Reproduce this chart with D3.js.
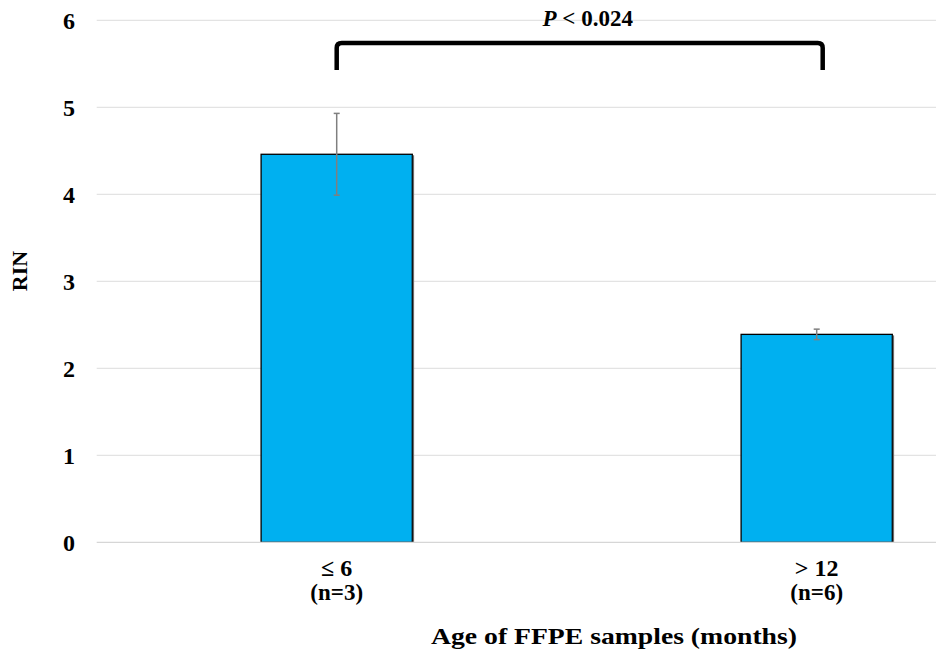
<!DOCTYPE html>
<html>
<head>
<meta charset="utf-8">
<script src="https://cdn.jsdelivr.net/npm/d3@7/dist/d3.min.js"></script>
<style>
  html, body { margin: 0; padding: 0; background: #fff; }
  svg { display: block; }
  svg text { font-family: "Liberation Serif", "Times New Roman", Times, "DejaVu Serif", serif !important; font-weight: bold; fill: #000; }
</style>
</head>
<body>
<svg id="chart" width="936" height="652"></svg>
<script>
// Sample age groups and their mean RIN with error (±)
const groups = ["≤ 6", "> 12"];
const groupN = ["(n=3)", "(n=6)"];
const rinMean = [4.46, 2.39];
const rinErr = [0.47, 0.06];
const yTicks = [0, 1, 2, 3, 4, 5, 6];
const pLabel = "0.024";

const serif = "'Liberation Serif', 'Times New Roman', Times, 'DejaVu Serif', serif";
const svg = d3.select("#chart");
const plot = { left: 96.7, top: 20.3, bottom: 542.3, width: 960 };

const x = d3.scaleBand()
  .domain(groups)
  .range([plot.left, plot.left + plot.width])
  .paddingInner(0.685)
  .paddingOuter(0.3425);

const y = d3.scaleLinear().domain([0, 6]).range([plot.bottom, plot.top]);

// Horizontal gridlines
svg.append("g")
  .selectAll("line")
  .data(yTicks.filter(d => d > 0))
  .join("line")
  .attr("x1", plot.left).attr("x2", 936)
  .attr("y1", d => y(d)).attr("y2", d => y(d))
  .attr("stroke", "#e3e3e3").attr("stroke-width", 1.2);

// Y axis tick labels
const yAxis = d3.axisLeft(y).tickValues(yTicks).tickFormat(d3.format("d")).tickSize(0).tickPadding(0);
svg.append("g")
  .attr("transform", "translate(74,0)")
  .call(yAxis)
  .attr("font-family", serif)
  .call(g => g.select(".domain").remove())
  .call(g => g.selectAll("text")
    .attr("font-size", 24)
    .attr("text-anchor", "middle")
    .attr("x", -5)
    .attr("dy", "0.34em"));

// Bars
const bars = svg.append("g");
groups.forEach((g, i) => {
  const x0 = x(g), w = x.bandwidth();
  bars.append("rect")
    .attr("x", x0).attr("y", y(rinMean[i]))
    .attr("width", w).attr("height", y(0) - y(rinMean[i]))
    .attr("fill", "#00B0F0")
    .attr("stroke", "#000").attr("stroke-width", 1.3);
  // soft shade along the right edge
  bars.append("line")
    .attr("x1", x0 + w + 1.2).attr("x2", x0 + w + 1.2)
    .attr("y1", y(rinMean[i]) + 1).attr("y2", y(0))
    .attr("stroke", "#6b6b6b").attr("stroke-width", 1.2);
});

// X axis baseline
svg.append("line")
  .attr("x1", plot.left).attr("x2", 936)
  .attr("y1", y(0)).attr("y2", y(0))
  .attr("stroke", "#d6d6d6").attr("stroke-width", 1.3);

// Error bars
const err = svg.append("g").attr("stroke", "#7f7f7f").attr("stroke-width", 1.5);
groups.forEach((g, i) => {
  const cx = x(g) + x.bandwidth() / 2;
  const hi = y(rinMean[i] + rinErr[i]), lo = y(rinMean[i] - rinErr[i]);
  err.append("line").attr("x1", cx).attr("x2", cx).attr("y1", hi).attr("y2", lo);
  err.append("line").attr("x1", cx - 3).attr("x2", cx + 3).attr("y1", hi).attr("y2", hi);
  err.append("line").attr("x1", cx - 3).attr("x2", cx + 3).attr("y1", lo).attr("y2", lo);
});

// Category labels
const catG = svg.append("g").attr("font-family", serif);
groups.forEach((g, i) => {
  const cx = x(g) + x.bandwidth() / 2;
  catG.append("text").attr("x", cx).attr("y", 576)
    .attr("text-anchor", "middle").attr("font-size", 24).text(g);
  catG.append("text").attr("x", cx).attr("y", 600)
    .attr("text-anchor", "middle").attr("font-size", 23).text(groupN[i]);
});

// Axis titles
svg.append("text")
  .attr("x", 614).attr("y", 644)
  .attr("text-anchor", "middle").attr("font-size", 24)
  .attr("textLength", 366).attr("lengthAdjust", "spacingAndGlyphs")
  .attr("font-family", serif)
  .text("Age of FFPE samples (months)");

svg.append("text")
  .attr("transform", "translate(27,271) rotate(-90)")
  .attr("text-anchor", "middle").attr("font-size", 22)
  .attr("font-family", serif)
  .text("RIN");

// Significance bracket between the two groups
const bx1 = x(groups[0]) + x.bandwidth() / 2;
const bx2 = x(groups[1]) + x.bandwidth() / 2 + 6;
const by = 43, bBottom = 70, r = 5;
svg.append("path")
  .attr("d", `M${bx1},${bBottom} L${bx1},${by + r} Q${bx1},${by} ${bx1 + r},${by} ` +
             `L${bx2 - r},${by} Q${bx2},${by} ${bx2},${by + r} L${bx2},${bBottom}`)
  .attr("fill", "none").attr("stroke", "#000").attr("stroke-width", 4.5);

const pText = svg.append("text")
  .attr("x", (bx1 + bx2) / 2 + 8).attr("y", 26)
  .attr("text-anchor", "middle").attr("font-size", 23)
  .attr("font-family", serif);
pText.append("tspan").attr("font-style", "italic").text("P");
pText.append("tspan").text(" < " + pLabel);
</script>
</body>
</html>
